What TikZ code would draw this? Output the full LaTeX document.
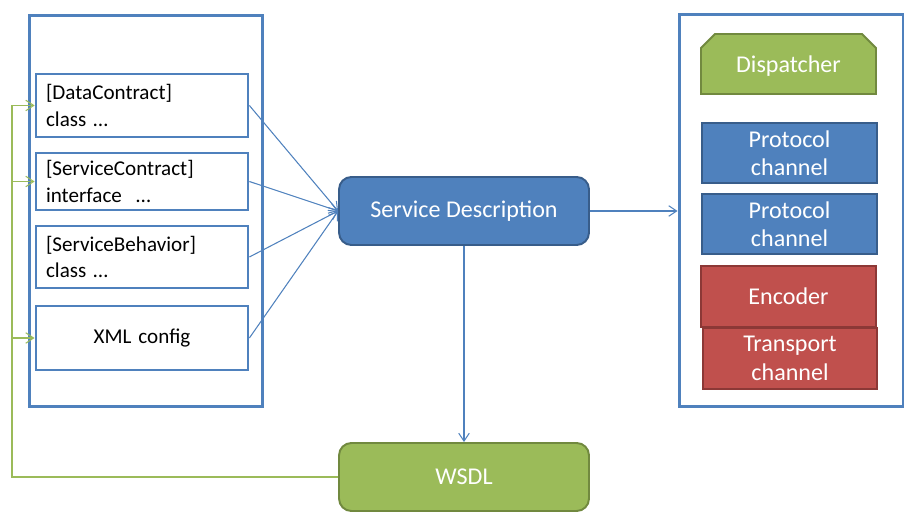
\documentclass[tikz,border=0pt]{standalone}
\usepackage{fontspec}
\setmainfont{Carlito}
\usepackage{tikz}
\usetikzlibrary{arrows.meta,shapes.misc}

\definecolor{wcfblue}{HTML}{4F81BD}
\definecolor{wcfblueline}{HTML}{385D8A}
\definecolor{wcfgreen}{HTML}{9BBB59}
\definecolor{wcfgreenline}{HTML}{71893F}
\definecolor{wcfred}{HTML}{C0504D}
\definecolor{wcfredline}{HTML}{8C3836}

\begin{document}
\begin{tikzpicture}[
  x=0.02cm, y=-0.02cm,
  font=\fontsize{13.7}{16.2}\selectfont,
  >={Straight Barb[length=4.5pt,width=6pt]},
  framebox/.style={draw=wcfblue, line width=1.7pt, minimum width=#1},
  codebox/.style={draw=wcfblue, line width=1.6pt, fill=white, minimum width=4.24cm,
    text width=3.84cm, align=left, inner sep=0pt, font=\fontsize{12}{15.3}\selectfont},
  mainnode/.style={rounded corners=7pt, line width=1.1pt, minimum width=5cm,
    minimum height=1.36cm, text=white},
  stacknode/.style={line width=1.1pt, minimum width=3.5cm, minimum height=1.2cm,
    text=white, align=center, inner sep=0pt},
  descmap/.style={->, draw=wcfblue, line width=0.6pt},
  feedmap/.style={->, draw=wcfgreen, line width=0.6pt}
]
  \useasboundingbox (0,0) rectangle (911,519);

  % left column
  \node[framebox=4.68cm, minimum height=7.84cm] (srcframe) at (146,211) {};
  \node[codebox, minimum height=1.26cm] (dc) at (142,105.5) {[DataContract]\\class \ldots};
  \node[codebox, minimum height=1.14cm] (sc) at (142,181.5) {[ServiceContract]\\interface \ \ldots};
  \node[codebox, minimum height=1.24cm] (sb) at (142,257) {[ServiceBehavior]\\class \ldots};
  \node[codebox, minimum height=1.28cm, align=center] (xml) at (142,338) {XML config};

  % middle
  \node[mainnode, fill=wcfblue, draw=wcfblueline] (sd) at (464,211) {Service Description};
  \node[mainnode, fill=wcfgreen, draw=wcfgreenline] (wsdl) at (464,477) {WSDL};

  % right column
  \node[framebox=4.48cm, minimum height=7.86cm] (rtframe) at (791,210.5) {};
  \node[stacknode, chamfered rectangle, chamfered rectangle corners={north west,north east},
    chamfered rectangle xsep=0.2cm, text depth=0pt, fill=wcfgreen, draw=wcfgreenline] (disp) at (788.5,64) {Dispatcher};
  \node[stacknode, fill=wcfblue, draw=wcfblueline] (proto1) at (789.5,153) {Protocol\\channel};
  \node[stacknode, fill=wcfblue, draw=wcfblueline] (proto2) at (789.5,224) {Protocol\\channel};
  \node[stacknode, fill=wcfred, draw=wcfredline, minimum height=1.22cm] (enc) at (788.5,296.5) {Encoder};
  \node[stacknode, fill=wcfred, draw=wcfredline, minimum width=3.48cm, minimum height=1.22cm] (trans) at (790,358.5) {Transport\\channel};

  % connectors
  \foreach \src in {dc,sc,sb,xml}
    \draw[descmap] (\src.east) -- (sd.west);
  \draw[descmap] (sd.east) -- (rtframe.west |- sd.east);
  \draw[descmap] (sd.south) -- (wsdl.north);

  \coordinate (feed) at (12,477);
  \draw[feedmap] (wsdl.west) -- (feed) |- (dc.west);
  \draw[feedmap] (feed |- sc.west) -- (sc.west);
  \draw[feedmap] (feed |- xml.west) -- (xml.west);
\end{tikzpicture}
\end{document}
